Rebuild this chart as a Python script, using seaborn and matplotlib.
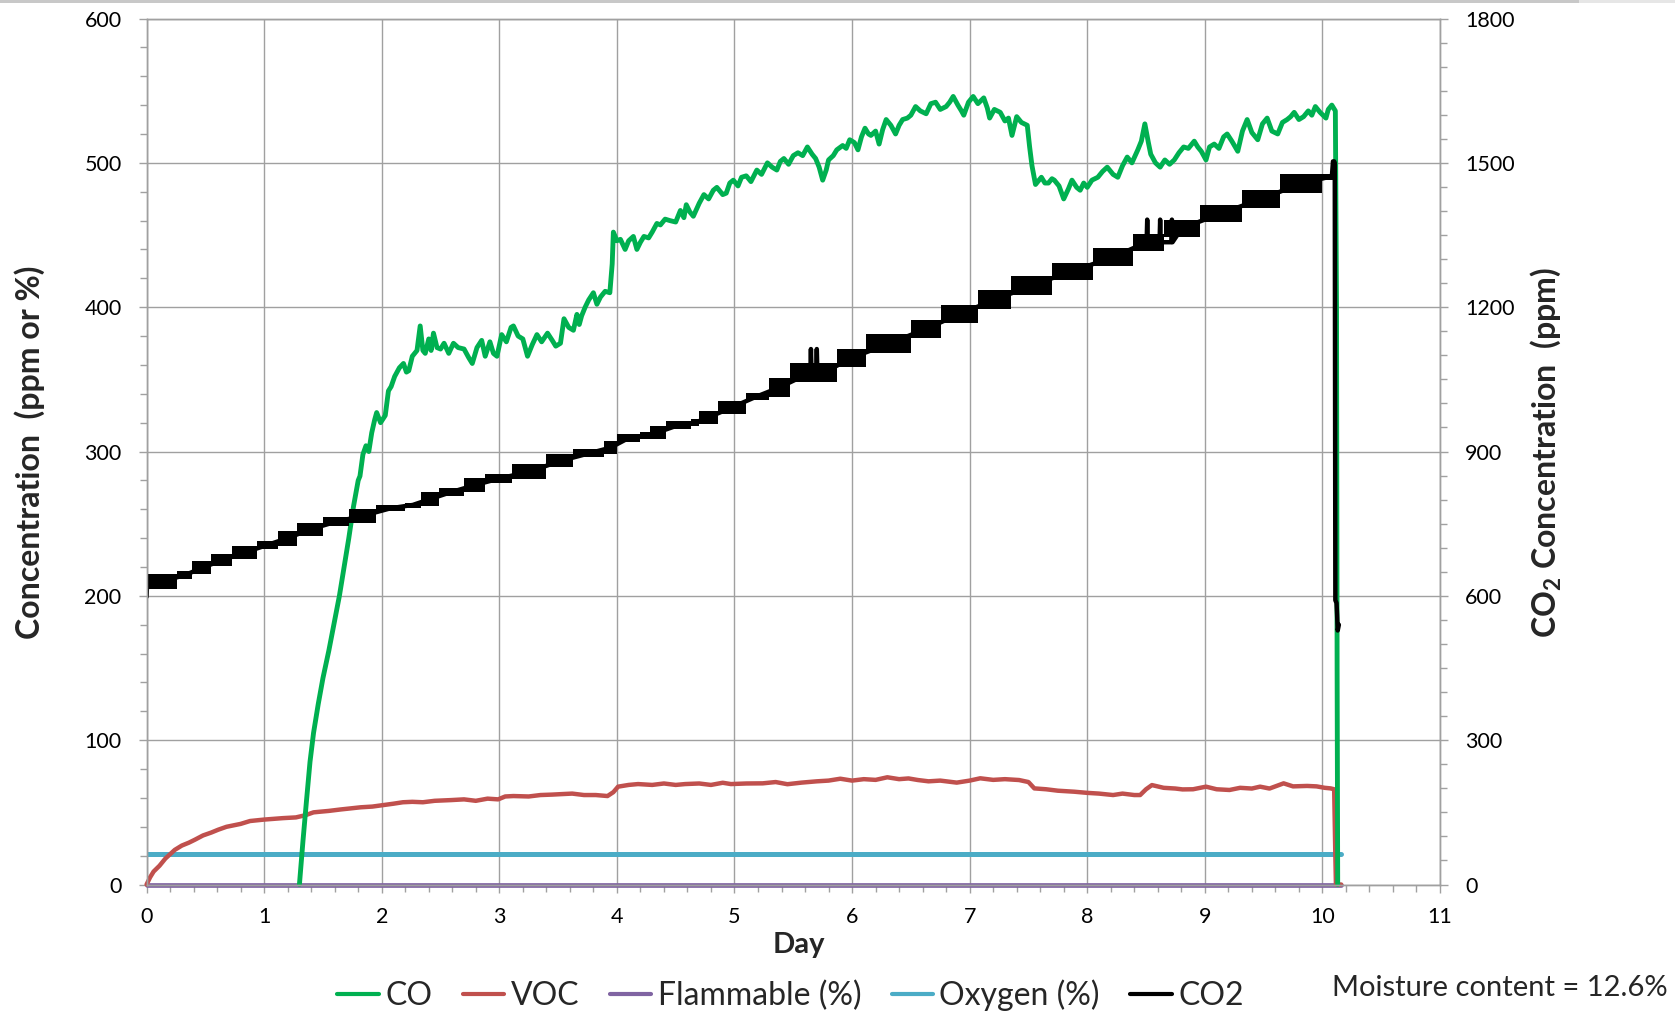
import matplotlib
matplotlib.use("Agg")
import matplotlib.pyplot as plt
import seaborn as sns
from matplotlib.ticker import MultipleLocator
from matplotlib.lines import Line2D
from matplotlib.patches import Rectangle

# CO (ppm)
co_day = [1.30, 1.33, 1.36, 1.39, 1.42, 1.46, 1.50, 1.55, 1.60, 1.64, 1.68, 1.72, 1.76, 1.80,
          1.815, 1.84, 1.866, 1.89, 1.915, 1.94, 1.957, 1.99, 2.03, 2.057, 2.08, 2.11, 2.15,
          2.185, 2.21, 2.23, 2.26, 2.28, 2.30, 2.327, 2.35, 2.37, 2.40, 2.42, 2.44, 2.47, 2.50,
          2.53, 2.57, 2.61, 2.65, 2.70, 2.74, 2.77, 2.81, 2.85, 2.88, 2.92, 2.95, 2.98, 3.02,
          3.06, 3.10, 3.12, 3.16, 3.20, 3.24, 3.28, 3.32, 3.36, 3.41, 3.45, 3.48, 3.52, 3.55,
          3.59, 3.63, 3.66, 3.68, 3.70, 3.73, 3.76, 3.80, 3.83, 3.86, 3.90, 3.94, 3.96, 3.97,
          4.00, 4.03, 4.07, 4.10, 4.14, 4.17, 4.20, 4.23, 4.27, 4.30, 4.34, 4.37, 4.41, 4.45,
          4.50, 4.54, 4.57, 4.59, 4.62, 4.65, 4.70, 4.74, 4.78, 4.82, 4.85, 4.90, 4.93, 4.96,
          4.99, 5.03, 5.06, 5.10, 5.14, 5.19, 5.23, 5.28, 5.32, 5.36, 5.39, 5.42, 5.46, 5.50,
          5.54, 5.58, 5.62, 5.66, 5.69, 5.72, 5.75, 5.78, 5.80, 5.84, 5.87, 5.92, 5.95, 5.98,
          6.02, 6.05, 6.08, 6.11, 6.14, 6.16, 6.20, 6.23, 6.26, 6.29, 6.33, 6.37, 6.40, 6.43,
          6.47, 6.50, 6.54, 6.58, 6.63, 6.67, 6.71, 6.75, 6.80, 6.83, 6.86, 6.90, 6.93, 6.95,
          6.99, 7.03, 7.07, 7.12, 7.15, 7.17, 7.21, 7.26, 7.30, 7.33, 7.36, 7.40, 7.44, 7.49,
          7.51, 7.53, 7.56, 7.61, 7.64, 7.67, 7.70, 7.72, 7.76, 7.80, 7.84, 7.87, 7.91, 7.94,
          7.97, 8.00, 8.04, 8.09, 8.13, 8.17, 8.22, 8.26, 8.30, 8.34, 8.38, 8.43, 8.46, 8.49,
          8.52, 8.54, 8.58, 8.62, 8.66, 8.70, 8.74, 8.78, 8.82, 8.86, 8.91, 8.94, 8.97, 9.01,
          9.04, 9.08, 9.12, 9.16, 9.19, 9.23, 9.28, 9.32, 9.36, 9.40, 9.45, 9.49, 9.53, 9.57,
          9.62, 9.66, 9.70, 9.73, 9.76, 9.80, 9.84, 9.88, 9.91, 9.94, 9.98, 10.03, 10.05, 10.08,
          10.11, 10.12, 10.125, 10.13]
co_ppm = [0, 30, 58, 85, 105, 125, 143, 162, 183, 200, 220, 240, 262, 280,
          283, 298, 304, 300, 313, 322, 327, 320, 325, 342, 345, 352, 358,
          361, 355, 356, 366, 368, 370, 387, 370, 368, 378, 370, 382, 372, 371,
          375, 368, 375, 372, 371, 365, 361, 372, 377, 366, 376, 368, 366, 381,
          376, 386, 387, 380, 378, 366, 374, 381, 376, 382, 377, 373, 375, 392,
          386, 384, 395, 388, 394, 400, 405, 410, 402, 407, 411, 410, 430, 452,
          446, 447, 440, 446, 449, 440, 445, 449, 448, 452, 458, 457, 461, 460,
          459, 467, 462, 471, 466, 463, 472, 478, 475, 481, 483, 478, 479, 486,
          488, 484, 490, 491, 487, 495, 492, 500, 497, 495, 501, 503, 499, 505,
          507, 505, 511, 506, 503, 497, 488, 495, 502, 505, 509, 512, 510, 516,
          514, 509, 518, 524, 520, 519, 522, 513, 523, 530, 526, 520, 526, 530,
          531, 533, 539, 536, 534, 541, 542, 537, 539, 542, 546, 540, 536, 533,
          542, 546, 541, 545, 538, 531, 537, 535, 529, 531, 519, 532, 528, 526,
          511, 498, 485, 490, 486, 486, 489, 488, 484, 475, 482, 488, 483, 481,
          486, 483, 488, 490, 494, 497, 492, 490, 498, 504, 500, 509, 515, 527,
          514, 506, 500, 497, 502, 499, 502, 507, 511, 510, 515, 511, 508, 502,
          511, 513, 510, 518, 520, 515, 508, 522, 530, 521, 516, 527, 531, 522,
          520, 528, 530, 532, 535, 530, 532, 536, 533, 539, 535, 531, 537, 540,
          536, 400, 150, 0]

# VOC (ppm)
voc_day = [0.00, 0.03, 0.06, 0.11, 0.16, 0.20, 0.24, 0.30, 0.36, 0.41, 0.48, 0.55, 0.61, 0.68,
           0.74, 0.80, 0.88, 0.94, 1.00, 1.08, 1.16, 1.27, 1.35, 1.42, 1.47, 1.55, 1.65, 1.73,
           1.82, 1.92, 2.01, 2.10, 2.18, 2.26, 2.35, 2.45, 2.59, 2.70, 2.80, 2.90, 2.99, 3.05,
           3.12, 3.25, 3.35, 3.45, 3.52, 3.62, 3.72, 3.82, 3.92, 3.97, 4.01, 4.10, 4.18, 4.30,
           4.40, 4.50, 4.58, 4.70, 4.80, 4.90, 4.97, 5.10, 5.24, 5.35, 5.45, 5.57, 5.70, 5.80,
           5.90, 6.00, 6.10, 6.20, 6.30, 6.40, 6.48, 6.56, 6.65, 6.75, 6.89, 7.00, 7.09, 7.20,
           7.30, 7.42, 7.50, 7.55, 7.65, 7.75, 7.89, 8.00, 8.10, 8.22, 8.30, 8.40, 8.45, 8.50,
           8.55, 8.65, 8.75, 8.81, 8.90, 9.01, 9.10, 9.21, 9.30, 9.40, 9.47, 9.55, 9.60, 9.67,
           9.75, 9.87, 9.95, 10.02, 10.07, 10.10, 10.11, 10.115, 10.16]
voc_ppm = [0, 5, 9, 13, 18, 21, 24, 27, 29, 31, 34, 36, 38, 40,
           41, 42, 44, 44.5, 45, 45.5, 46, 46.5, 48, 50, 50.4, 51, 52, 52.7,
           53.5, 54, 55, 56, 57, 57.3, 57, 58, 58.5, 59, 58, 59.5, 59, 61,
           61.3, 61, 62, 62.3, 62.6, 63, 62, 62, 61.3, 64, 67.8, 69, 69.6, 69,
           70, 69, 69.6, 70, 69, 70.5, 69.6, 70, 70.1, 71, 69.5, 70.6, 71.5, 72,
           73.3, 72, 73, 72.5, 74.3, 73, 73.5, 72.4, 71.5, 72, 70.6, 72, 73.6, 72.5,
           73, 72.4, 71, 66.6, 66, 65, 64.3, 63.5, 63, 62, 63, 62, 62, 66,
           68.9, 67, 66.5, 65.9, 66, 67.8, 66, 65.5, 67, 66.5, 67.8, 66.5, 68, 70.1,
           68, 68.3, 68, 67, 66.6, 66, 20, 0, 0]

# Flammable (%) and Oxygen (%)
gas_day = [0.00, 10.16]
flammable_pct = [0, 0]
oxygen_pct = [20.9, 20.9]

# CO2 (ppm, right axis): band of each sensor step, and the trace through it
co2_step_day = [0.00, 0.26, 0.39, 0.55, 0.73, 0.94, 1.12, 1.28, 1.50, 1.72, 1.95, 2.20, 2.33,
                2.49, 2.70, 2.88, 3.11, 3.40, 3.63, 3.89, 4.00, 4.20, 4.28, 4.42, 4.63, 4.70,
                4.86, 5.10, 5.29, 5.47, 5.87, 6.12, 6.50, 6.76, 7.07, 7.35, 7.70, 8.05, 8.39,
                8.65, 8.96, 9.32, 9.64, 10.00, 10.09]
co2_low = [615, 634, 645, 662, 676, 697, 704, 724, 745, 752, 777, 783, 787,
           808, 815, 835, 842, 867, 888, 894, 919, 926, 926, 946, 953, 957,
           978, 1008, 1014, 1045, 1076, 1104, 1135, 1167, 1196, 1226, 1257, 1285, 1316,
           1346, 1376, 1406, 1438, 1465, 1465]
co2_high = [645, 652, 672, 686, 703, 714, 735, 752, 763, 780, 788, 794, 815,
            825, 844, 853, 874, 894, 905, 922, 936, 940, 953, 964, 967, 985,
            1005, 1022, 1052, 1083, 1113, 1144, 1174, 1205, 1235, 1264, 1292, 1323, 1353,
            1382, 1413, 1444, 1476, 1476, 1476]

co2_day = [0.00, 0.005, 0.13, 0.325, 0.47, 0.64, 0.835, 1.03, 1.20, 1.39, 1.61, 1.835, 2.075,
           2.265, 2.41, 2.595, 2.79, 3.00, 3.255, 3.515, 3.76, 3.945,
           4.10, 4.24, 4.35, 4.525, 4.665, 4.78, 4.98, 5.195, 5.38, 5.645, 5.65, 5.655,
           5.695, 5.70, 5.705, 5.76, 6.00, 6.31, 6.63, 6.915, 7.21, 7.525, 7.875, 8.22,
           8.505, 8.51, 8.515, 8.615, 8.62, 8.625, 8.715, 8.72, 8.725, 8.805, 9.14, 9.48,
           9.82, 10.045, 10.08, 10.09, 10.10, 10.105, 10.11, 10.12, 10.125, 10.13, 10.14]
co2_ppm = [598, 632, 630, 643, 658, 674, 690, 706, 720, 738, 754, 766, 782,
           789, 801, 816, 830, 844, 858, 880, 896, 908,
           928, 933, 940, 955, 960, 971, 992, 1015, 1033, 1064, 1113, 1064,
           1064, 1113, 1064, 1064, 1095, 1124, 1155, 1186, 1215, 1245, 1275, 1304,
           1335, 1382, 1335, 1335, 1382, 1335, 1335, 1382, 1335, 1364, 1395, 1425,
           1457, 1470, 1470, 1503, 1503, 1500, 591, 585, 560, 528, 540]

legend_labels = ["CO", "VOC", "Flammable (%)", "Oxygen (%)", "CO2"]
colors = {"CO": "#00B050", "VOC": "#C0504D", "Flammable (%)": "#8064A2",
          "Oxygen (%)": "#4BACC6", "CO2": "#000000"}
grey = "#A0A0A0"

sns.set_theme(style="ticks")
plt.rcParams["font.family"] = ["Lato", "DejaVu Sans"]
plt.rcParams["mathtext.fontset"] = "custom"
plt.rcParams["mathtext.rm"] = "Lato"
plt.rcParams["mathtext.bf"] = "Lato:bold"

fig = plt.figure(figsize=(16.75, 10.11), dpi=100)
ax = fig.add_axes([0.0875, 0.1251, 0.7722, 0.8566])
ax2 = ax.twinx()

# primary axis series
sns.lineplot(x=gas_day, y=flammable_pct, ax=ax, color=colors["Flammable (%)"], lw=3.4,
             estimator=None, sort=False, clip_on=False)
sns.lineplot(x=gas_day, y=oxygen_pct, ax=ax, color=colors["Oxygen (%)"], lw=3.6,
             estimator=None, sort=False)
sns.lineplot(x=voc_day, y=voc_ppm, ax=ax, color=colors["VOC"], lw=3.2,
             estimator=None, sort=False, clip_on=False)
sns.lineplot(x=co_day, y=co_ppm, ax=ax, color=colors["CO"], lw=3.5,
             estimator=None, sort=False, clip_on=False)

# CO2 on secondary axis
ax2.fill_between(co2_step_day, co2_low, co2_high, step="post", color="black", lw=0)
sns.lineplot(x=co2_day, y=co2_ppm, ax=ax2, color="black", lw=3.2,
             estimator=None, sort=False)

ax.set_xlim(0, 11)
ax.set_ylim(0, 600)
ax2.set_ylim(0, 1800)
ax.xaxis.set_major_locator(MultipleLocator(1))
ax.xaxis.set_minor_locator(MultipleLocator(0.2))
ax.yaxis.set_major_locator(MultipleLocator(100))
ax.yaxis.set_minor_locator(MultipleLocator(20))
ax2.yaxis.set_major_locator(MultipleLocator(300))
ax2.yaxis.set_minor_locator(MultipleLocator(50))

ax.grid(True, which="major", color=grey, lw=1)
ax.set_axisbelow(True)
for a in (ax, ax2):
    for s in a.spines.values():
        s.set_color(grey)
        s.set_linewidth(1)
    a.set_xlabel("")
    a.set_ylabel("")

ax.tick_params(axis="both", which="both", direction="out", color=grey, width=1,
               labelsize=15.5, labelcolor="black")
ax.tick_params(axis="both", which="major", length=6)
ax.tick_params(axis="both", which="minor", length=5)
ax.tick_params(axis="y", pad=12)
ax.tick_params(axis="x", pad=10)
ax2.tick_params(axis="y", which="both", direction="out", color=grey, width=1,
                labelsize=15.5, labelcolor="black", pad=12)
ax2.tick_params(axis="y", which="major", length=6)
ax2.tick_params(axis="y", which="minor", length=5)

fig.text(0.0179, 0.553, "Concentration  (ppm or %)", rotation=90, ha="center", va="center",
         fontsize=23, fontweight="bold")
fig.text(0.923, 0.552, r"CO$_\mathbf{2}$ Concentration  (ppm)", rotation=90, ha="center",
         va="center", fontsize=23, fontweight="bold")
fig.text(0.477, 0.0653, "Day", ha="center", va="center", fontsize=21, fontweight="bold")

handles = [Line2D([0], [0], color=colors[k], lw=3) for k in legend_labels]
fig.legend(handles, legend_labels, loc="center", bbox_to_anchor=(0.472, 0.0152), ncol=5,
           frameon=False, fontsize=23, handlelength=1.3, handletextpad=0.2,
           columnspacing=0.95)
fig.text(0.9958, 0.0227, "Moisture content = 12.6%", ha="right", va="center", fontsize=21)

# grey strip along the top edge of the screenshot
fig.add_artist(Rectangle((0, 1 - 3 / 1011), 1579 / 1675, 3 / 1011,
                         transform=fig.transFigure, color="#C8C8C8", lw=0))
fig.add_artist(Rectangle((1579 / 1675, 1 - 3 / 1011), 96 / 1675, 3 / 1011,
                         transform=fig.transFigure, color="#E6E6E6", lw=0))

fig.savefig("out.png", dpi=100)
